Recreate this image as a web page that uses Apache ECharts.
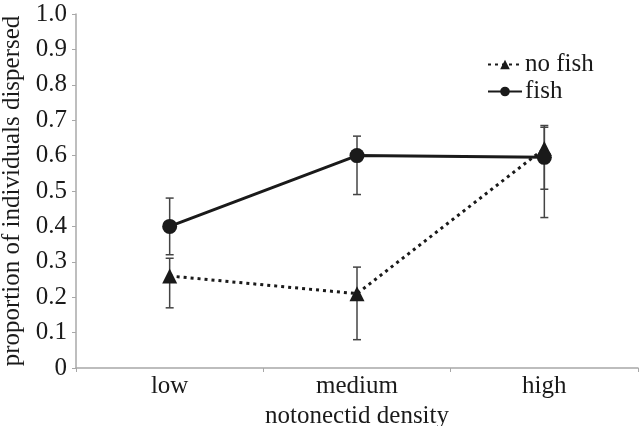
<!DOCTYPE html>
<html>
<head>
<meta charset="utf-8">
<script src="https://cdn.jsdelivr.net/npm/echarts@6/dist/echarts.min.js"></script>
<style>html,body{margin:0;padding:0;background:#fff;}#c{width:640px;height:426px;}</style>
</head>
<body>
<div id="c"></div>
<script>
var categories = ['low', 'medium', 'high'];
var noFish = [0.26, 0.21, 0.62];
var fish = [0.40, 0.60, 0.595];
var noFishLow = [0.17, 0.08, 0.425];
var noFishHigh = [0.31, 0.285, 0.68];
var fishLow = [0.32, 0.49, 0.505];
var fishHigh = [0.48, 0.655, 0.685];
var seriesNames = ['no fish', 'fish'];
var yTickLabels = ['0', '0.1', '0.2', '0.3', '0.4', '0.5', '0.6', '0.7', '0.8', '0.9', '1.0'];

var FONT = '"Liberation Serif", "DejaVu Serif", serif';
var FS = 25;
var chart = echarts.init(document.getElementById('c'), null, {renderer: 'canvas'});

function errData(lo, hi) {
  return categories.map(function (c, i) { return [i, lo[i], hi[i]]; });
}
function errRender(params, api) {
  var x = api.value(0);
  var lo = api.coord([x, api.value(1)]);
  var hi = api.coord([x, api.value(2)]);
  var cap = 4;
  var st = {stroke: '#444', lineWidth: 1.5};
  return {
    type: 'group',
    children: [
      {type: 'line', shape: {x1: lo[0], y1: lo[1], x2: hi[0], y2: hi[1]}, style: st},
      {type: 'line', shape: {x1: lo[0] - cap, y1: lo[1], x2: lo[0] + cap, y2: lo[1]}, style: st},
      {type: 'line', shape: {x1: hi[0] - cap, y1: hi[1], x2: hi[0] + cap, y2: hi[1]}, style: st}
    ]
  };
}

chart.setOption({
  animation: false,
  backgroundColor: '#fff',
  grid: {left: 76, right: 2, top: 14, bottom: 58, containLabel: false, outerBoundsMode: 'none'},
  legend: {
    data: seriesNames,
    orient: 'vertical',
    left: 482,
    top: 47,
    itemWidth: 34,
    itemHeight: 12,
    itemGap: 2,
    textStyle: {fontFamily: FONT, fontSize: FS, color: '#1a1a1a', padding: [0, 0, 0, -2]}
  },
  xAxis: {
    type: 'category',
    data: categories,
    boundaryGap: true,
    name: 'notonectid density',
    nameLocation: 'middle',
    nameGap: 33,
    nameTextStyle: {fontFamily: FONT, fontSize: FS, color: '#1a1a1a'},
    axisLine: {lineStyle: {color: '#a8a8a8', width: 1.5}},
    axisTick: {show: true, alignWithLabel: false, length: 4, lineStyle: {color: '#a8a8a8'}},
    axisLabel: {fontFamily: FONT, fontSize: FS, color: '#1a1a1a', margin: 6},
    splitLine: {show: false}
  },
  yAxis: {
    type: 'value',
    min: 0,
    max: 1,
    interval: 0.1,
    name: 'proportion of individuals dispersed',
    nameLocation: 'middle',
    nameGap: 48,
    nameTextStyle: {fontFamily: FONT, fontSize: FS, color: '#1a1a1a'},
    axisLine: {show: true, lineStyle: {color: '#a8a8a8', width: 1.5}},
    axisTick: {show: true, length: 4, lineStyle: {color: '#a8a8a8'}},
    axisLabel: {
      fontFamily: FONT, fontSize: FS, color: '#1a1a1a', margin: 9,
      formatter: function (v) { return yTickLabels[Math.round(v * 10)]; }
    },
    splitLine: {show: false}
  },
  series: [
    {
      type: 'custom', name: 'err-nofish', renderItem: errRender,
      data: errData(noFishLow, noFishHigh), z: 1, silent: true
    },
    {
      type: 'custom', name: 'err-fish', renderItem: errRender,
      data: errData(fishLow, fishHigh), z: 1, silent: true
    },
    {
      type: 'line', name: seriesNames[0], data: noFish,
      symbol: 'triangle', symbolSize: 15,
      itemStyle: {color: '#1a1a1a'},
      lineStyle: {color: '#1a1a1a', width: 3, type: [3, 4]},
      z: 3
    },
    {
      type: 'line', name: seriesNames[1], data: fish,
      symbol: 'circle', symbolSize: 15,
      itemStyle: {color: '#1a1a1a'},
      lineStyle: {color: '#1a1a1a', width: 3},
      z: 3
    }
  ]
});
</script>
</body>
</html>
